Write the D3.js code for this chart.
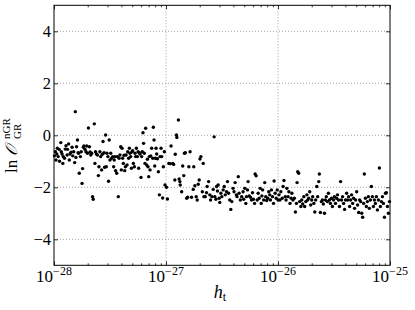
<!DOCTYPE html>
<html><head><meta charset="utf-8">
<script src="https://cdn.jsdelivr.net/npm/d3@7"></script>
<style>
html,body{margin:0;padding:0;background:#fff;}
svg{display:block;}
</style></head>
<body>
<svg id="chart" width="415" height="310"></svg>
<script>
// Data: [h_t, ln O] pairs
const decade28 = [
[1.01e-28,-0.79],[1.03e-28,-0.63],[1.04e-28,-0.95],[1.06e-28,-0.72],[1.07e-28,-0.50],[1.09e-28,-0.82],[1.11e-28,-0.54],[1.12e-28,-1.00],
[1.15e-28,-0.28],[1.16e-28,-0.63],[1.18e-28,-0.72],[1.20e-28,-1.08],[1.21e-28,-0.82],[1.24e-28,-0.88],[1.26e-28,-0.53],[1.28e-28,-0.40],
[1.31e-28,-0.76],[1.32e-28,-0.54],[1.35e-28,-0.33],[1.37e-28,-0.95],[1.39e-28,-0.72],[1.42e-28,-0.65],[1.45e-28,-0.46],[1.47e-28,-0.79],
[1.50e-28,-0.63],[1.53e-28,-1.05],[1.55e-28,0.91],[1.57e-28,-0.85],[1.59e-28,-0.44],[1.62e-28,-0.18],[1.64e-28,-0.67],[1.66e-28,-0.69],
[1.68e-28,-1.46],[1.72e-28,-0.82],[1.75e-28,-0.63],[1.78e-28,-1.85],[1.80e-28,-1.28],[1.83e-28,-0.46],[1.85e-28,-0.41],[1.89e-28,-0.54],
[1.93e-28,-0.63],[1.96e-28,-0.41],[1.99e-28,-0.69],[2.03e-28,0.28],[2.07e-28,-0.44],[2.10e-28,-0.64],[2.13e-28,-0.76],[2.17e-28,-0.69],
[2.21e-28,-2.36],[2.24e-28,-2.46],[2.29e-28,0.44],[2.32e-28,-1.08],[2.35e-28,-0.63],[2.39e-28,-0.72],[2.44e-28,-0.76],[2.49e-28,-1.55],
[2.52e-28,-1.21],[2.57e-28,-0.63],[2.61e-28,-0.82],[2.66e-28,-1.33],[2.70e-28,-0.73],[2.74e-28,-0.24],[2.80e-28,-0.67],[2.83e-28,-1.23],
[2.89e-28,0.01],[2.93e-28,-1.21],[2.97e-28,-0.69],[3.03e-28,-0.82],[3.07e-28,-1.77],[3.11e-28,-0.18],[3.16e-28,-0.95],[3.21e-28,-0.69],
[3.27e-28,-0.88],[3.34e-28,-0.82],[3.41e-28,-1.21],[3.45e-28,-0.95],[3.50e-28,-0.82],[3.55e-28,-1.36],[3.63e-28,-1.46],[3.68e-28,-0.82],
[3.75e-28,-2.36],[3.81e-28,-0.88],[3.88e-28,-0.76],[3.94e-28,-0.44],[3.99e-28,-1.33],[4.05e-28,-0.50],[4.10e-28,-0.88],[4.16e-28,-1.08],
[4.22e-28,-0.77],[4.28e-28,-1.36],[4.34e-28,-1.21],[4.40e-28,-0.76],[4.49e-28,-1.14],[4.55e-28,-0.63],[4.64e-28,-0.88],[4.71e-28,-0.50],
[4.77e-28,-0.69],[4.84e-28,-0.82],[4.91e-28,-1.27],[4.98e-28,-0.63],[5.04e-28,-0.59],[5.11e-28,-1.08],[5.22e-28,-1.21],[5.29e-28,-0.69],
[5.36e-28,-0.82],[5.44e-28,-0.50],[5.55e-28,-0.82],[5.63e-28,-0.63],[5.70e-28,-1.27],[5.78e-28,-0.67],[5.86e-28,-0.72],[5.98e-28,-1.62],
[6.06e-28,-0.82],[6.14e-28,-0.63],[6.23e-28,0.10],[6.31e-28,-0.31],[6.40e-28,-0.69],[6.49e-28,-1.08],[6.58e-28,0.27],[6.72e-28,-1.14],
[6.82e-28,-0.92],[6.91e-28,-1.21],[7.01e-28,-1.59],[7.10e-28,-0.82],[7.20e-28,-1.33],[7.30e-28,-0.79],[7.45e-28,-0.50],[7.61e-28,-0.88],
[7.71e-28,0.31],[7.82e-28,-0.18],[7.93e-28,-1.18],[8.04e-28,-0.88],[8.15e-28,-0.50],[8.26e-28,-0.72],[8.38e-28,-0.90],[8.55e-28,-1.40],
[8.73e-28,-2.29],[8.85e-28,-0.82],[9.03e-28,-0.50],[9.16e-28,-0.82],[9.34e-28,-2.41],[9.47e-28,-1.21],[9.67e-28,-0.63],[9.80e-28,-1.91]
];
const decade27 = [
[1.01e-27,-2.00],[1.03e-27,-2.45],[1.06e-27,-1.08],[1.09e-27,-1.09],[1.11e-27,-0.41],[1.15e-27,-1.08],[1.17e-27,-1.12],[1.20e-27,-1.72],
[1.21e-27,-0.73],[1.24e-27,0.01],[1.25e-27,-0.08],[1.29e-27,0.59],[1.31e-27,-1.68],[1.33e-27,-1.78],[1.34e-27,-1.91],[1.38e-27,-2.17],
[1.41e-27,-1.18],[1.44e-27,-1.55],[1.46e-27,-0.69],[1.49e-27,-0.67],[1.53e-27,-2.42],[1.56e-27,-2.38],[1.60e-27,-1.21],[1.64e-27,-0.63],
[1.69e-27,-2.38],[1.75e-27,-2.08],[1.77e-27,-1.21],[1.81e-27,-1.94],[1.86e-27,-2.36],[1.90e-27,-2.49],[1.94e-27,-1.88],[1.98e-27,-1.72],
[2.01e-27,-0.91],[2.05e-27,-0.82],[2.11e-27,-2.17],[2.15e-27,-1.08],[2.18e-27,-2.36],[2.24e-27,-2.36],[2.30e-27,-2.21],[2.33e-27,-1.97],
[2.40e-27,-1.78],[2.46e-27,-2.29],[2.50e-27,-2.49],[2.57e-27,-2.36],[2.64e-27,-2.08],[2.69e-27,-0.06],[2.73e-27,-2.36],[2.79e-27,-2.46],
[2.83e-27,-1.97],[2.88e-27,-2.14],[2.92e-27,-1.91],[2.98e-27,-2.42],[3.02e-27,-2.58],[3.09e-27,-2.23],[3.15e-27,-2.36],[3.24e-27,-2.10],
[3.31e-27,-1.97],[3.38e-27,-2.29],[3.47e-27,-2.17],[3.54e-27,-1.78],[3.62e-27,-2.23],[3.71e-27,-2.49],[3.79e-27,-2.85],[3.87e-27,-2.55],
[3.97e-27,-2.04],[4.05e-27,-2.17],[4.14e-27,-1.82],[4.25e-27,-2.29],[4.31e-27,-2.36],[4.42e-27,-1.59],[4.49e-27,-2.23],[4.61e-27,-2.49],
[4.74e-27,-2.36],[4.88e-27,-2.17],[4.94e-27,-2.46],[5.05e-27,-2.04],[5.16e-27,-2.62],[5.23e-27,-2.36],[5.34e-27,-2.10],[5.41e-27,-1.78],
[5.53e-27,-2.33],[5.68e-27,-2.38],[5.80e-27,-2.49],[5.92e-27,-2.21],[6.04e-27,-2.46],[6.17e-27,-2.62],[6.25e-27,-1.49],[6.38e-27,-1.56],
[6.52e-27,-2.49],[6.65e-27,-2.23],[6.79e-27,-2.42],[6.93e-27,-2.04],[7.08e-27,-2.62],[7.18e-27,-2.33],[7.29e-27,-2.10],[7.45e-27,-2.49],
[7.61e-27,-1.82],[7.77e-27,-2.36],[7.93e-27,-2.51],[8.10e-27,-2.42],[8.27e-27,-2.17],[8.44e-27,-2.29],[8.56e-27,-2.49],[8.74e-27,-2.10],
[8.93e-27,-2.36],[9.12e-27,-2.62],[9.23e-27,-1.76],[9.43e-27,-2.23],[9.63e-27,-2.42],[9.84e-27,-2.10]
];
const decade26 = [
[1.00e-26,-2.49],[1.02e-26,-2.29],[1.04e-26,-2.49],[1.06e-26,-2.17],[1.09e-26,-2.42],[1.11e-26,-1.97],[1.13e-26,-1.74],[1.16e-26,-2.36],
[1.18e-26,-2.49],[1.20e-26,-2.04],[1.23e-26,-2.36],[1.25e-26,-2.17],[1.28e-26,-2.62],[1.31e-26,-2.42],[1.33e-26,-2.23],[1.36e-26,-2.49],
[1.40e-26,-2.42],[1.43e-26,-2.95],[1.46e-26,-2.62],[1.48e-26,-1.82],[1.50e-26,-1.40],[1.53e-26,-1.46],[1.56e-26,-2.55],[1.60e-26,-2.74],
[1.63e-26,-2.49],[1.66e-26,-2.64],[1.70e-26,-2.36],[1.73e-26,-2.74],[1.77e-26,-2.55],[1.81e-26,-2.29],[1.84e-26,-2.49],[1.88e-26,-2.42],
[1.92e-26,-2.17],[1.96e-26,-2.68],[2.00e-26,-2.49],[2.04e-26,-2.36],[2.09e-26,-2.62],[2.13e-26,-2.95],[2.17e-26,-2.49],[2.22e-26,-1.97],
[2.26e-26,-2.36],[2.31e-26,-1.78],[2.34e-26,-1.49],[2.39e-26,-2.97],[2.44e-26,-2.55],[2.49e-26,-2.49],[2.54e-26,-2.64],[2.60e-26,-3.00],
[2.65e-26,-2.49],[2.70e-26,-2.36],[2.76e-26,-2.55],[2.82e-26,-2.23],[2.88e-26,-2.49],[2.94e-26,-2.62],[3.00e-26,-2.42],[3.06e-26,-2.74],
[3.13e-26,-2.49],[3.19e-26,-2.36],[3.26e-26,-2.62],[3.33e-26,-2.42],[3.40e-26,-2.29],[3.47e-26,-2.49],[3.54e-26,-2.74],[3.62e-26,-1.78],
[3.69e-26,-2.49],[3.77e-26,-2.36],[3.85e-26,-2.62],[3.93e-26,-2.85],[4.01e-26,-2.49],[4.10e-26,-2.23],[4.18e-26,-2.49],[4.27e-26,-2.36],
[4.36e-26,-2.74],[4.45e-26,-2.49],[4.54e-26,-2.29],[4.64e-26,-2.62],[4.73e-26,-2.42],[4.83e-26,-2.81],[4.93e-26,-2.49],[5.04e-26,-2.17],
[5.14e-26,-2.68],[5.25e-26,-2.97],[5.36e-26,-2.49],[5.47e-26,-2.55],[5.59e-26,-3.00],[5.70e-26,-3.15],[5.82e-26,-2.62],[5.90e-26,-1.49],
[6.03e-26,-2.42],[6.15e-26,-2.74],[6.28e-26,-2.55],[6.41e-26,-2.36],[6.54e-26,-2.81],[6.68e-26,-2.49],[6.82e-26,-1.97],[6.96e-26,-2.36],
[7.11e-26,-2.74],[7.26e-26,-2.49],[7.41e-26,-2.62],[7.56e-26,-2.36],[7.72e-26,-2.87],[7.88e-26,-2.49],[8.04e-26,-1.26],[8.21e-26,-2.74],
[8.38e-26,-2.55],[8.56e-26,-2.36],[8.73e-26,-2.62],[8.92e-26,-3.15],[9.10e-26,-2.23],[9.29e-26,-2.21],[9.49e-26,-2.74],[9.68e-26,-3.00],
[9.89e-26,-2.55]
];
const xTickExponents = [-28, -27, -26, -25];
const yTicks = [-4, -2, 0, 2, 4];

const FONT = "'Liberation Serif', 'Times New Roman', 'DejaVu Serif', serif";
const svg = d3.select("#chart");
const L = 54, R = 390, T = 5.3, B = 265.3;
const x = d3.scaleLog().domain([1e-28, 1e-25]).range([L, R]);
const y = d3.scaleLinear().domain([-5, 5]).range([B, T]);

// grid
const grid = svg.append("g");
xTickExponents.slice(1, -1).forEach(e => {
  grid.append("line").attr("x1", x(Math.pow(10, e))).attr("x2", x(Math.pow(10, e)))
    .attr("y1", T).attr("y2", B).attr("stroke", "#888").attr("stroke-width", 0.8).attr("stroke-dasharray", "1,2");
});
yTicks.forEach(v => {
  grid.append("line").attr("x1", L).attr("x2", R).attr("y1", y(v)).attr("y2", y(v))
    .attr("stroke", "#888").attr("stroke-width", 0.8).attr("stroke-dasharray", "1,2");
});

// points
const allPoints = decade28.concat(decade27, decade26);
svg.append("g").selectAll("circle").data(allPoints).join("circle")
  .attr("cx", d => x(d[0])).attr("cy", d => y(d[1])).attr("r", 1.7).attr("fill", "#000");

// axes with inward ticks
const xMajor = xTickExponents.map(e => Math.pow(10, e));
const xMinor = x.ticks().filter(v => !xMajor.some(m => Math.abs(v / m - 1) < 1e-6));
const gxB = svg.append("g").attr("transform", `translate(0,${B})`)
  .call(d3.axisBottom(x).tickValues(xMinor).tickSize(-2).tickFormat(""));
const gxB2 = svg.append("g").attr("transform", `translate(0,${B})`)
  .call(d3.axisBottom(x).tickValues(xMajor).tickSize(-4).tickFormat(""));
const gxT = svg.append("g").attr("transform", `translate(0,${T})`)
  .call(d3.axisTop(x).tickValues(xMinor).tickSize(-2).tickFormat(""));
const gxT2 = svg.append("g").attr("transform", `translate(0,${T})`)
  .call(d3.axisTop(x).tickValues(xMajor).tickSize(-4).tickFormat(""));
const gyL = svg.append("g").attr("transform", `translate(${L},0)`)
  .call(d3.axisLeft(y).tickValues(yTicks).tickSize(-4).tickFormat(""));
const gyR = svg.append("g").attr("transform", `translate(${R},0)`)
  .call(d3.axisRight(y).tickValues(yTicks).tickSize(-4).tickFormat(""));
[gxB, gxB2, gxT, gxT2, gyL, gyR].forEach(g => {
  g.select(".domain").remove();
  g.selectAll("line").attr("stroke", "#000").attr("stroke-width", 0.8);
});
svg.append("rect").attr("x", L).attr("y", T).attr("width", R - L).attr("height", B - T)
  .attr("fill", "none").attr("stroke", "#000").attr("stroke-width", 1);

// tick labels
xTickExponents.forEach(e => {
  const t = svg.append("text").attr("x", x(Math.pow(10, e))).attr("y", 282)
    .attr("text-anchor", "middle").attr("font-size", 17).attr("font-family", FONT).attr("fill", "#000");
  t.append("tspan").text("10");
  t.append("tspan").attr("font-size", 12).attr("dy", -7).text("\u2212" + Math.abs(e));
});
yTicks.forEach(v => {
  svg.append("text").attr("x", 51).attr("y", y(v) + 5.5).attr("text-anchor", "end")
    .attr("font-size", 16.5).attr("font-family", FONT).attr("fill", "#000")
    .text(v < 0 ? "\u2212" + Math.abs(v) : String(v));
});

// axis labels
const xl = svg.append("text").attr("x", 220).attr("y", 298).attr("text-anchor", "middle")
  .attr("font-size", 18).attr("font-family", FONT).attr("fill", "#000");
xl.append("tspan").attr("font-style", "italic").text("h");
xl.append("tspan").attr("font-size", 12).attr("dy", 3).text("t");

const yl = svg.append("g").attr("transform", "translate(17,140) rotate(-90)")
  .attr("font-family", FONT).attr("fill", "#000");
const ylt = yl.append("text").attr("x", -33).attr("y", 0).attr("font-size", 17);
ylt.append("tspan").text("ln ");
ylt.append("tspan").attr("font-style", "italic").text("\uD835\uDCAA");
const bx = 1;
yl.append("text").attr("x", bx).attr("y", -7).attr("font-size", 11).text("nGR");
yl.append("text").attr("x", bx).attr("y", 4).attr("font-size", 11).text("GR");
</script>
</body></html>
